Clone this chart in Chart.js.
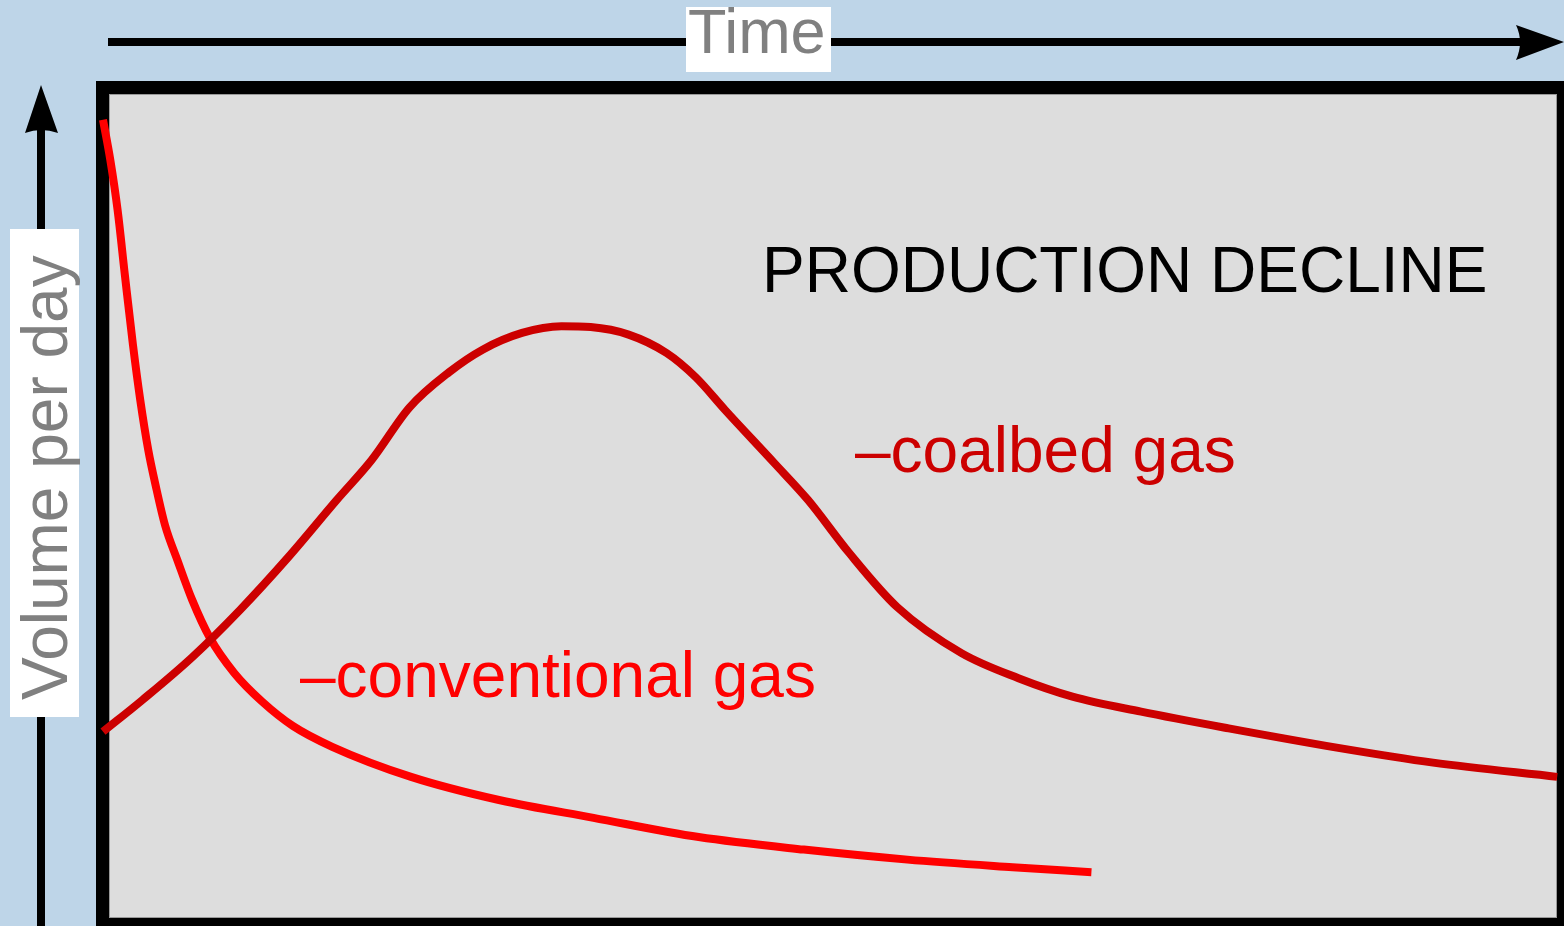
<!DOCTYPE html>
<html>
<head>
<meta charset="utf-8">
<title>Production decline</title>
<script src="https://cdn.jsdelivr.net/npm/chart.js@4/dist/chart.umd.min.js"></script>
<style>
    html, body { margin: 0; padding: 0; background: #bed5e8; }
    canvas { display: block; }
</style>
</head>
<body>
<canvas id="declineChart" width="1564" height="926"></canvas>
<script>
// Time axis runs 0..100, volume per day 0..100 (arbitrary units, no ticks shown)
const conventionalTime = [0, 0.5, 1.0, 1.5, 2.05, 2.55, 3.1, 3.6, 4.25, 5.1, 6.1, 7.3, 9.0, 10.9, 13.0, 15.7, 21.1, 27.2, 33.6, 40.8, 48.0, 55.1, 62.3, 67.7];
const conventionalVolume = [96.2, 91.4, 85.4, 77.6, 69.3, 62.7, 56.7, 52.5, 47.7, 43.5, 38.8, 34.3, 30.0, 26.6, 23.7, 21.2, 17.6, 14.8, 12.7, 10.4, 8.9, 7.7, 6.8, 6.2];

const coalbedTime = [0, 2.7, 6.1, 9.4, 12.7, 16.0, 18.4, 21.0, 23.7, 26.0, 28.7, 31.4, 33.4, 36.0, 38.6, 40.6, 42.6, 46.0, 48.3, 51.1, 54.4, 58.8, 62.7, 66.4, 71.1, 77.1, 84.5, 91.1, 99.6];
const coalbedVolume = [23.0, 26.8, 31.9, 37.6, 43.9, 50.7, 55.5, 61.8, 66.0, 68.7, 70.7, 71.5, 71.4, 70.5, 68.3, 65.4, 61.5, 55.1, 50.7, 44.4, 37.9, 32.4, 29.4, 27.2, 25.4, 23.4, 21.1, 19.3, 17.6];

const toPoints = (xs, ys) => xs.map((x, i) => ({ x: x, y: ys[i] }));

const FONT = '"Liberation Sans", Arial, sans-serif';

// Frame, arrows and labels around the plot
const diagramPlugin = {
    id: 'diagram',
    beforeDraw(chart) {
        const { ctx, chartArea: a } = chart;
        ctx.save();
        ctx.fillStyle = '#bed5e8';
        ctx.fillRect(0, 0, chart.width, chart.height);
        ctx.fillStyle = '#dddddd';
        ctx.fillRect(a.left, a.top, a.right - a.left, a.bottom - a.top);
        ctx.strokeStyle = '#999999';
        ctx.lineWidth = 1;
        ctx.strokeRect(a.left + 6.5, a.top + 6.5, a.right - a.left - 13, a.bottom - a.top - 13);
        ctx.strokeStyle = '#000000';
        ctx.lineWidth = 13;
        ctx.strokeRect(a.left - 0.5, a.top - 0.5, a.right - a.left + 1, a.bottom - a.top + 1);
        ctx.restore();
    },
    afterDraw(chart) {
        const { ctx } = chart;
        ctx.save();

        // time arrow
        ctx.fillStyle = '#000000';
        ctx.fillRect(108, 38, 1415, 8);
        ctx.beginPath();
        ctx.moveTo(1564, 42);
        ctx.lineTo(1516, 25);
        ctx.quadraticCurveTo(1524, 42, 1516, 60);
        ctx.closePath();
        ctx.fill();

        // volume arrow
        ctx.fillRect(37, 128, 8, 800);
        ctx.beginPath();
        ctx.moveTo(41, 85);
        ctx.lineTo(25, 133);
        ctx.quadraticCurveTo(41, 127, 58, 133);
        ctx.closePath();
        ctx.fill();

        // axis label boxes
        ctx.fillStyle = '#ffffff';
        ctx.fillRect(686, 7, 145, 65);
        ctx.fillRect(10, 229, 69, 488);

        ctx.fillStyle = '#808080';
        ctx.textBaseline = 'alphabetic';
        ctx.textAlign = 'left';
        ctx.font = '63px ' + FONT;
        ctx.fillText('Time', 688, 53);

        ctx.save();
        ctx.translate(67, 700);
        ctx.rotate(-Math.PI / 2);
        ctx.font = '64px ' + FONT;
        ctx.fillText('Volume per day', 0, 0);
        ctx.restore();

        // titles inside the plot
        ctx.fillStyle = '#000000';
        ctx.font = '64px ' + FONT;
        ctx.fillText('PRODUCTION DECLINE', 762, 292);

        ctx.fillStyle = '#cc0000';
        ctx.fillText('\u2013coalbed gas', 855, 472);

        ctx.fillStyle = '#ff0000';
        ctx.fillText('\u2013conventional gas', 300, 697);

        ctx.restore();
    }
};

const ctx = document.getElementById('declineChart').getContext('2d');
new Chart(ctx, {
    type: 'scatter',
    data: {
        datasets: [
            {
                label: 'coalbed gas',
                data: toPoints(coalbedTime, coalbedVolume),
                showLine: true,
                borderColor: '#cc0000',
                borderWidth: 8,
                pointRadius: 0,
                cubicInterpolationMode: 'monotone',
                clip: false
            },
            {
                label: 'conventional gas',
                data: toPoints(conventionalTime, conventionalVolume),
                showLine: true,
                borderColor: '#ff0000',
                borderWidth: 8,
                pointRadius: 0,
                cubicInterpolationMode: 'monotone',
                clip: false
            }
        ]
    },
    options: {
        responsive: false,
        animation: false,
        layout: {
            padding: { left: 103, right: 1, top: 88, bottom: 2 }
        },
        scales: {
            x: { type: 'linear', min: 0, max: 100, display: false },
            y: { type: 'linear', min: 0, max: 100, display: false }
        },
        plugins: {
            legend: { display: false },
            tooltip: { enabled: false }
        }
    },
    plugins: [diagramPlugin]
});
</script>
</body>
</html>
